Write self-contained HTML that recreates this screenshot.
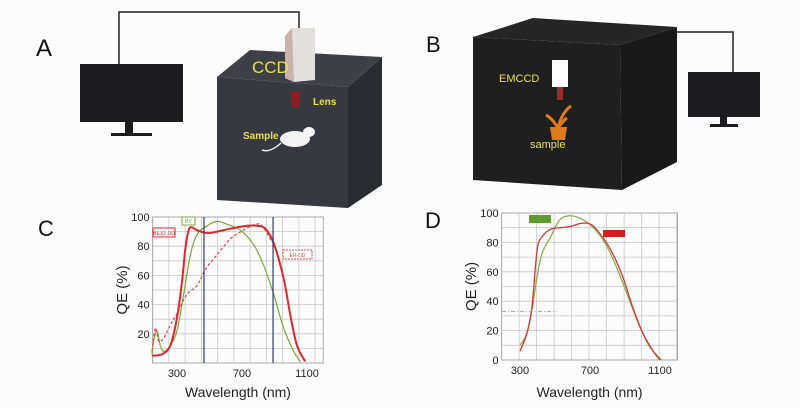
<!DOCTYPE html>
<html><head><meta charset="utf-8"><style>
html,body{margin:0;padding:0;background:#fff;}
svg{display:block;font-family:"Liberation Sans",sans-serif;}
</style></head><body>
<svg id="fig" width="800" height="408" viewBox="0 0 800 408">
<rect width="800" height="408" fill="#fcfcfc"/>
<g>
<text x="36" y="56" font-size="24" fill="#111">A</text>
<polyline points="119,64 119,12 299,12 299,30" fill="none" stroke="#222" stroke-width="1.5"/>
<rect x="80" y="64" width="103" height="58" fill="#1c1c1e"/>
<rect x="125" y="122" width="8" height="11" fill="#1c1c1e"/>
<rect x="111" y="133" width="41" height="3" fill="#1c1c1e"/>
<polygon points="217,77 250,50 382,57 348,87" fill="#3d4047"/>
<polygon points="217,77 348,87 348,208 217,200" fill="#36393f"/>
<polygon points="348,87 382,57 382,185 348,208" fill="#2a2c31"/>
<polygon points="285,36 292,28 315,28 315,80 294,82 285,78" fill="#e2e0dd"/>
<polygon points="285,36 292,28 294,82 285,78" fill="#c9b3aa"/>
<text x="252" y="73" font-size="17" fill="#e6e04a">CCD</text>
<rect x="291" y="91" width="9" height="16" fill="#8e1d22"/>
<text x="313" y="105" font-size="10" font-weight="bold" fill="#e6e04a">Lens</text>
<text x="243" y="139" font-size="10" font-weight="bold" fill="#e6e04a">Sample</text>
<g>
<ellipse cx="295" cy="139" rx="15" ry="8" fill="#f4f4f4"/>
<ellipse cx="309" cy="132" rx="6" ry="5" fill="#f4f4f4"/>
<path d="M281,143 Q270,153 262,150" stroke="#eee" stroke-width="1.5" fill="none"/>
</g>
</g>
<g>
<text x="426" y="52" font-size="22" fill="#111">B</text>
<polyline points="677,32 733,32 733,72" fill="none" stroke="#222" stroke-width="1.5"/>
<polygon points="473,37 533,18 677,27 620,45" fill="#262626"/>
<polygon points="473,37 620,45 622,190 473,180" fill="#1f1f1f"/>
<polygon points="620,45 677,27 677,162 622,190" fill="#191919"/>
<rect x="688" y="72" width="72" height="45" fill="#1c1c1e"/>
<rect x="720" y="117" width="7" height="7" fill="#1c1c1e"/>
<rect x="710" y="124" width="28" height="3" fill="#1c1c1e"/>
<rect x="552" y="60" width="16" height="27" fill="#fff"/>
<rect x="557" y="87" width="6" height="13" fill="#9b2a2a"/>
<text x="499" y="82" font-size="11" fill="#e6e04a">EMCCD</text>
<g>
<path d="M558,128 Q552,118 546,115 M558,128 Q562,112 571,106 M558,128 Q564,120 567,118" stroke="#e07b1a" stroke-width="3" fill="none"/>
<polygon points="550,127 567,127 565,140 552,140" fill="#e07b1a"/>
</g>
<text x="530" y="148" font-size="11" fill="#e6e04a">sample</text>
</g>
<text x="38" y="236" font-size="22" fill="#111">C</text>
<text x="425" y="228" font-size="22" fill="#111">D</text>
<g id="chartC"></g>
<g id="chartD"></g>
</svg>
<script>
const cTicksX=[300,700,1100];
const cTicksY=[20,40,60,80,100];
const cRedW=[146,208,259,300,331,351,372,392,423,485,546,628,731,792,844,895,956,997,1038,1089];
const cRedV=[5,6,12,31,56,78,91,93,91,89,90,92,94,94,92,82,58,33,12,1];
const cDashW=[146,167,187,218,259,300,361,423,474,546,628,710,782,823,874,895];
const cDashV=[8,24,15,17,26,34,47,53,64,74,85,91,95,94,85,82];
const cGreenW=[146,156,177,197,218,259,300,341,382,423,485,546,608,690,772,833,895,956,1018,1059];
const cGreenV=[6,15,22,12,8,12,22,47,74,88,94,97,95,91,81,67,47,24,8,1];
const dTicksX=[300,700,1100];
const dTicksY=[0,20,40,60,80,100];
const dGreenW=[300,339,368,398,427,476,524,573,632,690,749,807,866,924,983,1041,1110];
const dGreenV=[10,18,34,57,73,84,95,98,97,93,86,75,59,41,23,9,0];
const dRedW=[300,339,368,398,427,476,534,593,651,710,769,827,886,944,1003,1061,1100];
const dRedV=[6,18,36,75,84,89,90,91,93,92,84,73,57,36,18,6,0];
const NS='http://www.w3.org/2000/svg';
function mk(p,t,a){const e=document.createElementNS(NS,t);for(const k in a)e.setAttribute(k,a[k]);p.appendChild(e);return e;}
function smooth(pts){let d='M'+pts[0][0]+','+pts[0][1];for(let i=0;i<pts.length-1;i++){const p0=pts[Math.max(0,i-1)],p1=pts[i],p2=pts[i+1],p3=pts[Math.min(pts.length-1,i+2)];d+=' C'+(p1[0]+(p2[0]-p0[0])/6)+','+(p1[1]+(p2[1]-p0[1])/6)+' '+(p2[0]-(p3[0]-p1[0])/6)+','+(p2[1]-(p3[1]-p1[1])/6)+' '+p2[0]+','+p2[1];}return d;}
function chart(g,o){
 const x=w=>o.x0+(w-300)*o.kx, y=v=>o.y0-v*o.ky;
 for(let w=o.wmin;w<=o.wmax+1;w+=100){const l=mk(g,'line',{x1:x(w),x2:x(w),y1:y(100),y2:o.y0,stroke:'#c8c8c8','stroke-width':0.8});
 }
 for(let v=0;v<=100;v+=10){const l=mk(g,'line',{x1:x(o.wmin),x2:x(o.wmax),y1:y(v),y2:y(v),stroke:'#c8c8c8','stroke-width':0.8});
 }
 mk(g,'rect',{x:x(o.wmin),y:y(100),width:x(o.wmax)-x(o.wmin),height:o.y0-y(100),fill:'none',stroke:'#aaa','stroke-width':1});
 o.tx.forEach(t=>{const e=mk(g,'text',{x:x(t),y:o.y0+14,'font-size':11,'text-anchor':'middle',fill:'#222'});e.textContent=t;
 });
 o.ty.forEach(t=>{const e=mk(g,'text',{x:x(o.wmin)-3,y:y(t)+4,'font-size':11,'text-anchor':'end',fill:'#222'});e.textContent=t;
 });
 const xt=mk(g,'text',{x:(x(o.wmin)+x(o.wmax))/2,y:397,'font-size':14,'text-anchor':'middle',fill:'#222'});xt.textContent='Wavelength (nm)';
 
 const yt=mk(g,'text',{x:0,y:0,'font-size':15,'text-anchor':'middle',fill:'#222',transform:'translate('+o.ytx+','+(y(50))+') rotate(-90)'});yt.textContent='QE (%)';
 
 o.series.forEach(s=>{const pts=s.w.map((w,i)=>[x(w),y(s.v[i])]);
  const p=mk(g,'path',{d:smooth(pts),fill:'none',stroke:s.c,'stroke-width':s.sw,'stroke-dasharray':s.dash||'none'});
  });
 return {x,y};
}
const gC=document.getElementById('chartC');
const ac=chart(gC,{x0:177,kx:0.1625,y0:363,ky:1.46,wmin:150,wmax:1200,tx:cTicksX,ty:cTicksY,ytx:127,series:[
 {w:cGreenW,v:cGreenV,c:'#79a83a',sw:1.2,name:'series-bv'},
 {w:cDashW,v:cDashV,c:'#d84a4a',sw:1.2,dash:'3,2',name:'series-er-dd'},
 {w:cRedW,v:cRedV,c:'#e0262e',sw:2,name:'series-bex2-dd'}]});
[466,891].forEach(w=>{const l=mk(gC,'line',{x1:ac.x(w),x2:ac.x(w),y1:ac.y(100),y2:363,stroke:'#2b3a7a','stroke-width':1.2});
 });
function leg(g,xx,yy,w,h,c,t,dash,name){const r=mk(g,'rect',{x:xx,y:yy,width:w,height:h,fill:'#fff',stroke:c,'stroke-width':1,'stroke-dasharray':dash||'none'});
 
 const e=mk(g,'text',{x:xx+w/2,y:yy+h-2,'font-size':5,'text-anchor':'middle',fill:c});e.textContent=t;}
leg(gC,153,228,22,9,'#e0262e','BEX2-DD','','legend-bex2-dd');
leg(gC,182,217,13,8,'#79a83a','BV','','legend-bv');
leg(gC,283,250,29,9,'#d84a4a','ER-DD','2,1','legend-er-dd');
const gD=document.getElementById('chartD');
const ad=chart(gD,{x0:520,kx:0.175,y0:360,ky:1.47,wmin:195,wmax:1200,tx:dTicksX,ty:dTicksY,ytx:476,series:[
 {w:dGreenW,v:dGreenV,c:'#8ab04a',sw:1.3,name:'series-green'},
 {w:dRedW,v:dRedV,c:'#d9363a',sw:1.3,name:'series-red'}]});
const dl=mk(gD,'line',{x1:502,x2:557,y1:ad.y(33),y2:ad.y(33),stroke:'#b9b07a','stroke-width':1,'stroke-dasharray':'4,2,1,2'});

const r1=mk(gD,'rect',{x:529,y:215,width:22,height:8,fill:'#5e9a2e'});
const r2=mk(gD,'rect',{x:603,y:230,width:22,height:7,fill:'#d02020'});
</script>
</body></html>
